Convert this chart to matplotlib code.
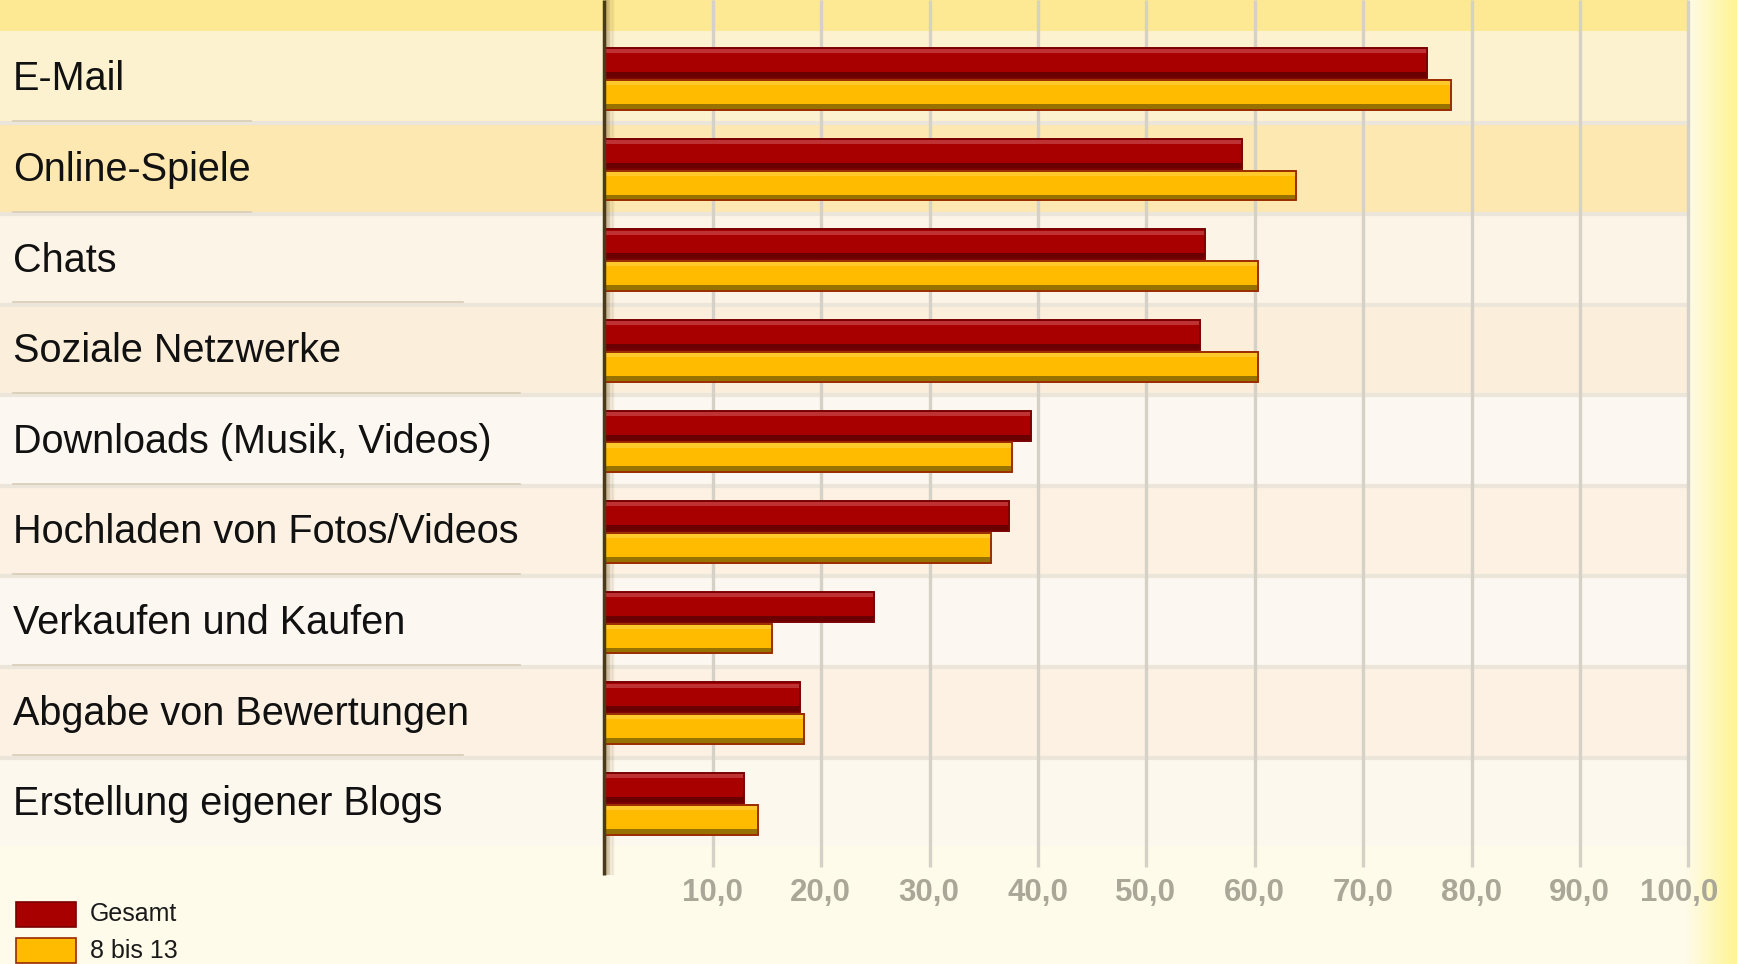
import numpy as np
import matplotlib
matplotlib.use("Agg")
import matplotlib.pyplot as plt
from matplotlib.patches import Rectangle
import matplotlib.transforms as mtransforms

# ---------------- data ----------------
categories = ["E-Mail", "Online-Spiele", "Chats", "Soziale Netzwerke",
              "Downloads (Musik, Videos)", "Hochladen von Fotos/Videos",
              "Verkaufen und Kaufen", "Abgabe von Bewertungen",
              "Erstellung eigener Blogs"]
gesamt = [75.9, 58.8, 55.4, 54.9, 39.4, 37.3, 24.9, 18.0, 12.9]
kinder = [78.1, 63.8, 60.3, 60.3, 37.6, 35.7, 15.5, 18.4, 14.2]
series_names = ["Gesamt", "8 bis 13"]
tick_values = [10, 20, 30, 40, 50, 60, 70, 80, 90, 100]
tick_labels = ["10,0", "20,0", "30,0", "40,0", "50,0", "60,0", "70,0", "80,0", "90,0", "100,0"]

# ---------------- styling ----------------
W, H = 1737, 964
plt.rcParams['font.family'] = ['Liberation Sans', 'DejaVu Sans']
fig = plt.figure(figsize=(W / 100, H / 100), dpi=100)
fig.patch.set_facecolor("#fefbea")

def fx(px):
    return px / W

def fy(py):
    return 1 - py / H

# background gradient (figure-level)
bg = fig.add_axes([0, 0, 1, 1], zorder=-10)
bg.set_axis_off()
nx = 400
grad = np.ones((2, nx, 3))
base = np.array([254, 251, 234]) / 255
right = np.array([255, 245, 150]) / 255
xs = np.linspace(0, W, nx)
t = np.clip((xs - 1688) / (W - 1688), 0, 1)
for k in range(3):
    grad[:, :, k] = base[k] * (1 - t) + right[k] * t
bg.imshow(grad, extent=[0, 1, 0, 1], aspect='auto', transform=bg.transAxes)
bg.set_xlim(0, 1)
bg.set_ylim(0, 1)
# top band
bg.add_patch(Rectangle((0, fy(31)), fx(1688), 1 - fy(31), color="#fde893", lw=0))

# main axes
left_px, right_px, top_px, bot_px = 604.4, 1688.4, 31, 846.4
ax = fig.add_axes([fx(left_px), fy(bot_px), fx(right_px - left_px), (bot_px - top_px) / H])
ax.set_facecolor("none")
n = len(categories)
ax.set_xlim(0, 100)
ax.set_ylim(n - 0.5, -0.5)
for s in ax.spines.values():
    s.set_visible(False)

row_colors = ["#fdf2cf", "#fce8b0", "#fcf4e6", "#fbefdc", "#fdf7f1",
              "#fcf1e2", "#fdf7f1", "#fcf1e3", "#fdf8ee"]
xmin_ax = -left_px / (right_px - left_px)
for i, c in enumerate(row_colors):
    r = ax.axhspan(i - 0.5, i + 0.5, xmin=xmin_ax, xmax=1.0, color=c, lw=0, zorder=0)
    r.set_clip_on(False)

# row separators
label_line_end = [251, 251, 463, 520, 520, 520, 520, 463]
for i, e in enumerate(label_line_end):
    yb = i + 0.5
    l = ax.axhline(yb + 0.02, xmin=xmin_ax, xmax=1.0, color="#ebe5da", lw=3, zorder=0.5)
    l.set_clip_on(False)
    l2 = ax.axhline(yb - 0.005, xmin=(13 - left_px) / (right_px - left_px),
                    xmax=(e - left_px) / (right_px - left_px), color="#d8ccb6", lw=1.2, zorder=0.6)
    l2.set_clip_on(False)

# vertical gridlines
ytop_ax = 1 + top_px / (bot_px - top_px)
ybot_ax = -(867 - bot_px) / (bot_px - top_px)
ax.vlines(tick_values, ybot_ax, ytop_ax, transform=ax.get_xaxis_transform(),
          colors="#d6d1c6", lw=2.4, zorder=1, clip_on=False)

# axis line with shadow
ax.vlines([0], ybot_ax - 0.01, ytop_ax, transform=ax.get_xaxis_transform(),
          colors="#4a3a1a", lw=2.5, zorder=4, clip_on=False)
for k in range(1, 9):
    ax.vlines([k * 0.11], ybot_ax - 0.01, ytop_ax, transform=ax.get_xaxis_transform(),
              colors="#8a7040", lw=1.2, alpha=0.4 * (1 - k / 9), zorder=1.5, clip_on=False)

# bars with 3D look
bh = 0.33
ypos = np.arange(n)
off_r, off_y = -0.145, 0.205

def fancy_bars(vals, offset, main, light, dark, edge):
    yc = ypos + offset
    ax.barh(yc, vals, height=bh, color=main, edgecolor=edge, lw=1.2, zorder=3)
    ax.barh(yc - bh / 2 + 0.035, vals, height=0.045, color=light, lw=0, zorder=3.1, alpha=0.7)
    ax.barh(yc + bh / 2 - 0.035, vals, height=0.06, color=dark, lw=0, zorder=3.1, alpha=0.9)
    ax.barh(yc, vals, height=bh, color="none", edgecolor=edge, lw=1.2, zorder=3.2)

fancy_bars(gesamt, off_r, "#a80000", "#c8484a", "#640000", "#7a0000")
fancy_bars(kinder, off_y, "#ffbb00", "#ffd040", "#8c6a00", "#9a2a00")

# category labels
for i, name in enumerate(categories):
    ax.text(xmin_ax + 13 / (right_px - left_px), i + 0.035, name, transform=ax.get_yaxis_transform(),
            ha='left', va='center', fontsize=28.5, color="#111111", zorder=5, clip_on=False)

# x ticks (right-aligned a little right of the gridline)
ax.set_yticks([])
ax.set_xticks(tick_values)
ax.set_xticklabels(tick_labels, fontsize=22.5, fontweight='bold', color="#aaa698")
ax.tick_params(axis='x', length=0, pad=23)
shift = mtransforms.ScaledTranslation(30 / 100, 0, fig.dpi_scale_trans)
for lab in ax.get_xticklabels():
    lab.set_horizontalalignment('right')
    lab.set_transform(lab.get_transform() + shift)

# legend (manual)
fig.patches.append(Rectangle((fx(15.7), fy(926.7)), fx(60.3), (926.7 - 901.7) / H,
                             transform=fig.transFigure, facecolor="#a80000",
                             edgecolor="#7a0000", lw=1.2, figure=fig))
fig.patches.append(Rectangle((fx(15.7), fy(963)), fx(60.3), (963 - 937.5) / H,
                             transform=fig.transFigure, facecolor="#ffbb00",
                             edgecolor="#9a2a00", lw=1.2, figure=fig))
fig.text(fx(90), fy(914), series_names[0], fontsize=18, color="#1a1a1a", va='center', ha='left')
fig.text(fx(90), fy(951), series_names[1], fontsize=18, color="#1a1a1a", va='center', ha='left')

fig.savefig("out.png", dpi=100, facecolor=fig.get_facecolor())
